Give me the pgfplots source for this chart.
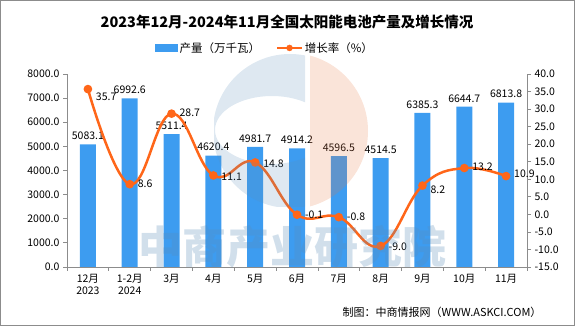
\documentclass[border=0pt]{standalone}
\usepackage{pgfplots}
\pgfplotsset{compat=1.18}
\usepackage{fontspec}
\setmainfont{Noto Sans CJK SC}
\definecolor{barblue}{HTML}{3D9CF0}
\definecolor{lineorange}{HTML}{FF6619}
\definecolor{axgray}{HTML}{8C8C8C}
\definecolor{wmblue}{HTML}{5B8DB8}
\definecolor{wmorange}{HTML}{E8763F}
\begin{document}
\begin{tikzpicture}
\draw[use as bounding box, draw=axgray, line width=1pt] (0.5pt,0.5pt) rectangle (574.5pt,325.5pt);
\begin{axis}[
  at={(67pt,59pt)}, anchor=south west,
  scale only axis, width=460pt, height=193pt,
  xmin=-0.5, xmax=10.5, ymin=0, ymax=8000,
  axis y line*=left, axis x line*=bottom,
  axis line style={axgray, line width=0.8pt},
  tick style={axgray, line width=0.8pt},
  tick align=outside, major tick length=4pt,
  xtick={-0.5,0.5,...,10.5}, xticklabels={},
  extra x ticks={0,1,2,3,4,5,6,7,8,9,10},
  extra x tick labels={12月\\2023,1-2月\\2024,3月,4月,5月,6月,7月,8月,9月,10月,11月},
  extra x tick style={major tick length=0pt, tick label style={align=center, anchor=north, yshift=-4pt}},
  ytick={0,1000,...,8000},
  yticklabel style={/pgf/number format/.cd, fixed, fixed zerofill, precision=1, 1000 sep={}},
  /pgf/number format/assume math mode=true,
  tick label style={font=\fontsize{10.5}{12}\selectfont, black},
  ybar, bar width=16pt,
  nodes near coords={\pgfmathprintnumber[fixed,fixed zerofill,precision=1,1000 sep={},assume math mode=true]{\pgfplotspointmeta}},
  every node near coord/.append style={font=\fontsize{10.5}{12}\selectfont, black, yshift=1pt},
  legend columns=2,
  legend style={draw=none, fill=none, at={(0.43,1.135)}, anchor=center, font=\fontsize{11.5}{13}\selectfont,
    /tikz/every even column/.append style={column sep=14pt}},
  clip=false,
]
\addplot[fill=barblue, draw=none, legend image code/.code={\fill[barblue] (0cm,-0.13cm) rectangle (0.81cm,0.13cm);}]
  coordinates {(0,5083.1) (1,6992.6) (2,5511.4) (3,4620.4) (4,4981.7) (5,4914.2) (6,4596.5) (7,4514.5) (8,6385.3) (9,6644.7) (10,6813.8)};
\addlegendentry{产量（万千瓦）}
\addlegendimage{legend image code/.code={\draw[lineorange, line width=2.5pt] (0cm,0cm) -- (0.85cm,0cm); \fill[lineorange] (0.425cm,0cm) circle (3pt);}}
\addlegendentry{增长率（\%）}
\end{axis}
\begin{axis}[
  at={(67pt,59pt)}, anchor=south west,
  scale only axis, width=460pt, height=193pt,
  xmin=-0.5, xmax=10.5, ymin=-15, ymax=40,
  axis x line=none, axis y line*=right,
  axis line style={axgray, line width=0.8pt},
  tick style={axgray, line width=0.8pt},
  tick align=outside, major tick length=4pt,
  ytick={-15,-10,...,40},
  yticklabel style={/pgf/number format/.cd, fixed, fixed zerofill, precision=1},
  /pgf/number format/assume math mode=true,
  tick label style={font=\fontsize{10.5}{12}\selectfont, black},
  clip=false,
]
\addplot[lineorange, line width=2.5pt, smooth, tension=0.7, mark=*, mark size=3pt, mark options={fill=lineorange, draw=lineorange},
  visualization depends on={\thisrow{dy} \as \dy},
  nodes near coords={\pgfmathprintnumber[fixed,fixed zerofill,precision=1,assume math mode=true]{\pgfplotspointmeta}},
  every node near coord/.append style={font=\fontsize{10.5}{12}\selectfont, black, anchor=west, xshift=3.5pt, yshift=\dy pt}]
  table[x=x, y=y, meta=y] {
x y dy
0 35.7 -8
1 8.6 0
2 28.7 1
3 11.1 -1
4 14.8 -1
5 -0.1 0
6 -0.8 0
7 -9.0 -1
8 8.2 -4
9 13.2 1
10 10.9 2
};
\end{axis}
% watermark logo and text
\begin{scope}
\clip (214pt,119pt) rectangle (305pt,272pt);
\fill[wmblue, opacity=0.2, even odd rule] (290pt,195pt) circle (77pt) (272pt,196pt) ellipse (57pt and 34pt);
\end{scope}
\begin{scope}
\clip (310pt,110pt) rectangle (380pt,280pt);
\fill[wmorange, opacity=0.2] (290pt,195pt) circle (78pt);
\end{scope}
\node[wmblue, opacity=0.28, font=\fontsize{44}{46}\selectfont\bfseries] at (292pt,79pt) {中商产业研究院};
\node[font=\fontsize{14.5}{16}\selectfont\bfseries] at (287pt,304pt) {2023年12月-2024年11月全国太阳能电池产量及增长情况};
\node[anchor=east, font=\fontsize{11}{13}\selectfont] at (545pt,14pt) {制图：中商情报网（WWW.ASKCI.COM）};
\end{tikzpicture}
\end{document}
